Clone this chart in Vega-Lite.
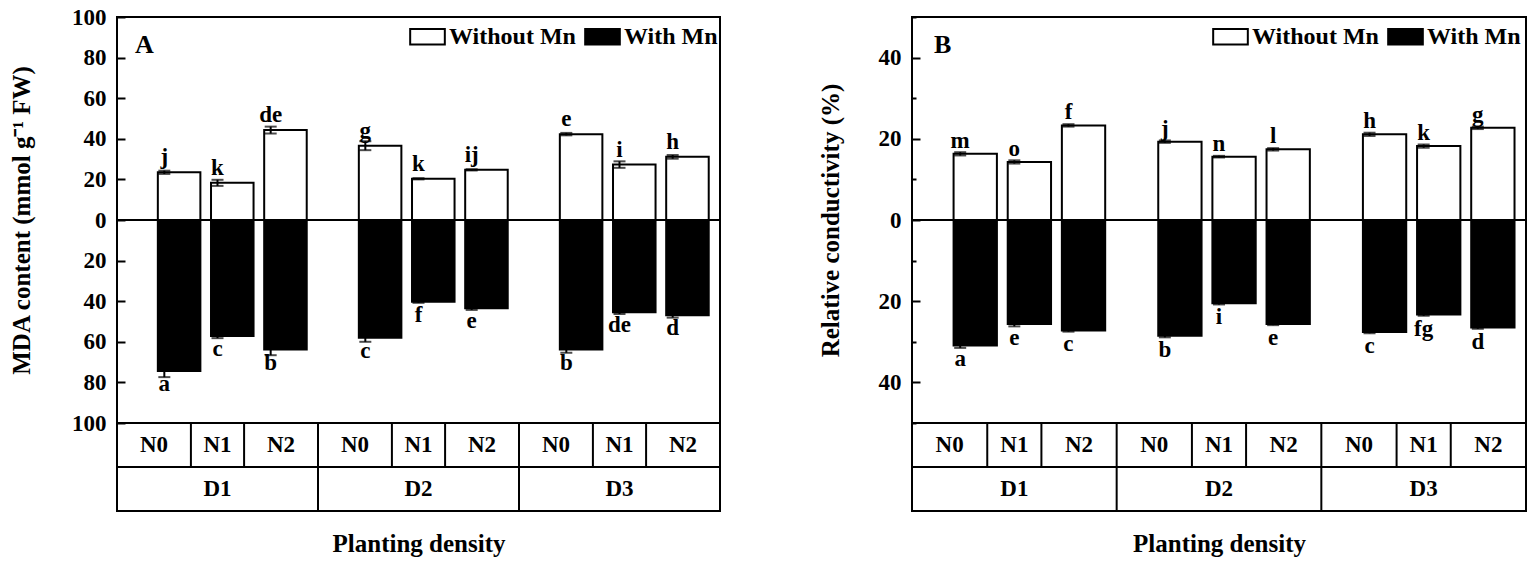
{
  "$schema": "https://vega.github.io/schema/vega-lite/v6.json",
  "autosize": {"type": "pad"},
  "padding": {"left": 8, "top": 5, "right": 4, "bottom": 5},
  "background": "white",
  "config": {
    "font": "Liberation Serif",
    "view": {"stroke": "black", "strokeWidth": 2},
    "axis": {
      "labelFont": "Liberation Serif", "labelFontWeight": "bold", "labelFontSize": 23, "labelColor": "black",
      "titleFont": "Liberation Serif", "titleFontWeight": "bold", "titleFontSize": 25, "titleColor": "black",
      "tickColor": "black", "tickWidth": 2, "domain": false, "grid": false
    },
    "legend": {
      "orient": "none", "direction": "horizontal", "padding": 0,
      "symbolType": "M-1,-0.45H1V0.45H-1Z", "symbolSize": 1200,
      "symbolStrokeColor": "black", "symbolStrokeWidth": 2,
      "labelFont": "Liberation Serif", "labelFontSize": 24, "labelFontWeight": "bold", "labelColor": "black",
      "labelOffset": 3, "columnPadding": 5, "labelLimit": 400
    },
    "text": {"font": "Liberation Serif", "fontWeight": "bold", "fontSize": 23, "color": "black"},
    "rule": {"color": "black", "strokeWidth": 2}
  },
  "datasets": {
    "A": [
      {"D": "D1", "N": "N0", "Mn": "Without Mn", "value": 23.5, "err": 0.8, "letter": "j"},
      {"D": "D1", "N": "N1", "Mn": "Without Mn", "value": 18.3, "err": 1.5, "letter": "k"},
      {"D": "D1", "N": "N2", "Mn": "Without Mn", "value": 44.3, "err": 1.7, "letter": "de"},
      {"D": "D2", "N": "N0", "Mn": "Without Mn", "value": 36.6, "err": 2.2, "letter": "g"},
      {"D": "D2", "N": "N1", "Mn": "Without Mn", "value": 20.3, "err": 0.3, "letter": "k"},
      {"D": "D2", "N": "N2", "Mn": "Without Mn", "value": 24.7, "err": 0.3, "letter": "ij"},
      {"D": "D3", "N": "N0", "Mn": "Without Mn", "value": 42.3, "err": 0.6, "letter": "e"},
      {"D": "D3", "N": "N1", "Mn": "Without Mn", "value": 27.3, "err": 1.6, "letter": "i"},
      {"D": "D3", "N": "N2", "Mn": "Without Mn", "value": 31.1, "err": 0.9, "letter": "h"},
      {"D": "D1", "N": "N0", "Mn": "With Mn", "value": -74.4, "err": 3.0, "letter": "a"},
      {"D": "D1", "N": "N1", "Mn": "With Mn", "value": -57.2, "err": 1.0, "letter": "c"},
      {"D": "D1", "N": "N2", "Mn": "With Mn", "value": -63.8, "err": 2.8, "letter": "b"},
      {"D": "D2", "N": "N0", "Mn": "With Mn", "value": -58.0, "err": 2.0, "letter": "c"},
      {"D": "D2", "N": "N1", "Mn": "With Mn", "value": -40.3, "err": 0.5, "letter": "f"},
      {"D": "D2", "N": "N2", "Mn": "With Mn", "value": -43.5, "err": 0.8, "letter": "e"},
      {"D": "D3", "N": "N0", "Mn": "With Mn", "value": -63.8, "err": 1.6, "letter": "b"},
      {"D": "D3", "N": "N1", "Mn": "With Mn", "value": -45.5, "err": 0.8, "letter": "de"},
      {"D": "D3", "N": "N2", "Mn": "With Mn", "value": -46.9, "err": 1.2, "letter": "d"}
    ],
    "B": [
      {"D": "D1", "N": "N0", "Mn": "Without Mn", "value": 16.3, "err": 0.4, "letter": "m"},
      {"D": "D1", "N": "N1", "Mn": "Without Mn", "value": 14.3, "err": 0.4, "letter": "o"},
      {"D": "D1", "N": "N2", "Mn": "Without Mn", "value": 23.3, "err": 0.3, "letter": "f"},
      {"D": "D2", "N": "N0", "Mn": "Without Mn", "value": 19.3, "err": 0.3, "letter": "j"},
      {"D": "D2", "N": "N1", "Mn": "Without Mn", "value": 15.6, "err": 0.2, "letter": "n"},
      {"D": "D2", "N": "N2", "Mn": "Without Mn", "value": 17.4, "err": 0.3, "letter": "l"},
      {"D": "D3", "N": "N0", "Mn": "Without Mn", "value": 21.1, "err": 0.4, "letter": "h"},
      {"D": "D3", "N": "N1", "Mn": "Without Mn", "value": 18.2, "err": 0.4, "letter": "k"},
      {"D": "D3", "N": "N2", "Mn": "Without Mn", "value": 22.7, "err": 0.3, "letter": "g"},
      {"D": "D1", "N": "N0", "Mn": "With Mn", "value": -30.9, "err": 0.6, "letter": "a"},
      {"D": "D1", "N": "N1", "Mn": "With Mn", "value": -25.6, "err": 0.6, "letter": "e"},
      {"D": "D1", "N": "N2", "Mn": "With Mn", "value": -27.2, "err": 0.3, "letter": "c"},
      {"D": "D2", "N": "N0", "Mn": "With Mn", "value": -28.5, "err": 0.4, "letter": "b"},
      {"D": "D2", "N": "N1", "Mn": "With Mn", "value": -20.5, "err": 0.3, "letter": "i"},
      {"D": "D2", "N": "N2", "Mn": "With Mn", "value": -25.6, "err": 0.3, "letter": "e"},
      {"D": "D3", "N": "N0", "Mn": "With Mn", "value": -27.6, "err": 0.3, "letter": "c"},
      {"D": "D3", "N": "N1", "Mn": "With Mn", "value": -23.3, "err": 0.3, "letter": "fg"},
      {"D": "D3", "N": "N2", "Mn": "With Mn", "value": -26.5, "err": 0.3, "letter": "d"}
    ]
  },
  "hconcat": [
    {
      "data": {"name": "A"},
      "spacing": 0,
      "bounds": "flush",
      "resolve": {"scale": {"x": "independent", "xOffset": "independent", "fill": "independent"}, "legend": {"fill": "independent"}},
      "vconcat": [
        {
          "width": 603,
          "height": 406,
          "layer": [
            {
              "mark": {"type": "bar", "width": {"band": 0.8}, "stroke": "black", "strokeWidth": 2},
              "encoding": {
                "x": {"field": "D", "type": "nominal", "axis": null, "scale": {"paddingInner": 0, "paddingOuter": 0}},
                "xOffset": {"field": "N", "type": "nominal", "scale": {"paddingInner": 0, "paddingOuter": 0.39}},
                "y": {
                  "field": "value", "type": "quantitative", "title": "MDA content (mmol g⁻¹ FW)",
                  "scale": {"domain": [-100, 100], "nice": false, "zero": false},
                  "axis": {
                    "values": [-100, -90, -80, -70, -60, -50, -40, -30, -20, -10, 0, 10, 20, 30, 40, 50, 60, 70, 80, 90, 100],
                    "labelExpr": "datum.value % 20 == 0 ? abs(datum.value) : ''",
                    "tickSize": {"condition": {"test": "datum.value % 20 == 0", "value": -8}, "value": -4},
                    "labelPadding": 19,
                    "titlePadding": 37
                  }
                },
                "fill": {
                  "field": "Mn", "type": "nominal",
                  "scale": {"domain": ["Without Mn", "With Mn"], "range": ["white", "black"]},
                  "legend": {"title": null, "legendX": 292, "legendY": 1}
                }
              }
            },
            {
              "mark": {"type": "errorbar", "ticks": {"size": 12, "color": "black", "strokeWidth": 2}, "color": "black", "thickness": 2},
              "encoding": {
                "x": {"field": "D", "type": "nominal"},
                "xOffset": {"field": "N", "type": "nominal"},
                "y": {"field": "value", "type": "quantitative", "title": "MDA content (mmol g⁻¹ FW)"},
                "yError": {"field": "err"}
              }
            },
            {
              "data": {"values": [{}]},
              "mark": {"type": "rule"},
              "encoding": {"y": {"datum": 0}}
            },
            {
              "transform": [{"filter": "datum.Mn == 'Without Mn'"}],
              "mark": {"type": "text", "baseline": "alphabetic", "dy": -8},
              "encoding": {
                "x": {"field": "D", "type": "nominal"},
                "xOffset": {"field": "N", "type": "nominal"},
                "y": {"field": "value", "type": "quantitative", "title": "MDA content (mmol g⁻¹ FW)"},
                "text": {"field": "letter"}
              }
            },
            {
              "transform": [{"filter": "datum.Mn == 'With Mn'"}],
              "mark": {"type": "text", "baseline": "top", "dy": 2},
              "encoding": {
                "x": {"field": "D", "type": "nominal"},
                "xOffset": {"field": "N", "type": "nominal"},
                "y": {"field": "value", "type": "quantitative", "title": "MDA content (mmol g⁻¹ FW)"},
                "text": {"field": "letter"}
              }
            },
            {
              "data": {"values": [{"t": "A"}]},
              "mark": {"type": "text", "align": "left", "baseline": "middle", "dx": 18, "fontSize": 26},
              "encoding": {
                "x": {"datum": "D1", "bandPosition": 0},
                "y": {"datum": 86},
                "text": {"field": "t"}
              }
            }
          ]
        },
        {
          "width": 603,
          "height": 44,
          "transform": [{"filter": "datum.Mn == 'With Mn'"}],
          "layer": [
            {
              "transform": [{"filter": "datum.N == 'N0'"}],
              "mark": {"type": "text", "baseline": "middle"},
              "encoding": {
                "x": {"field": "D", "type": "nominal", "axis": null, "bandPosition": 0.184, "scale": {"paddingInner": 0, "paddingOuter": 0}},
                "text": {"field": "N"}
              }
            },
            {
              "transform": [{"filter": "datum.N == 'N1'"}],
              "mark": {"type": "text", "baseline": "middle"},
              "encoding": {"x": {"field": "D", "type": "nominal", "bandPosition": 0.5}, "text": {"field": "N"}}
            },
            {
              "transform": [{"filter": "datum.N == 'N2'"}],
              "mark": {"type": "text", "baseline": "middle"},
              "encoding": {"x": {"field": "D", "type": "nominal", "bandPosition": 0.816}, "text": {"field": "N"}}
            },
            {
              "transform": [{"filter": "datum.N == 'N1'"}],
              "mark": {"type": "rule"},
              "encoding": {"x": {"field": "D", "type": "nominal", "bandPosition": 0.3677}}
            },
            {
              "transform": [{"filter": "datum.N == 'N2'"}],
              "mark": {"type": "rule"},
              "encoding": {"x": {"field": "D", "type": "nominal", "bandPosition": 0.6323}}
            },
            {
              "transform": [{"filter": "datum.N == 'N0' && datum.D != 'D1'"}],
              "mark": {"type": "rule"},
              "encoding": {"x": {"field": "D", "type": "nominal", "bandPosition": 0}}
            }
          ]
        },
        {
          "width": 603,
          "height": 44,
          "transform": [{"filter": "datum.Mn == 'With Mn' && datum.N == 'N0'"}],
          "layer": [
            {
              "mark": {"type": "text", "baseline": "middle"},
              "encoding": {
                "x": {
                  "field": "D", "type": "nominal", "scale": {"paddingInner": 0, "paddingOuter": 0},
                  "axis": {"title": "Planting density", "labels": false, "ticks": false, "titlePadding": 20}
                },
                "text": {"field": "D"}
              }
            },
            {
              "transform": [{"filter": "datum.D != 'D1'"}],
              "mark": {"type": "rule"},
              "encoding": {"x": {"field": "D", "type": "nominal", "bandPosition": 0}}
            }
          ]
        }
      ]
    },
    {
      "data": {"name": "B"},
      "spacing": 0,
      "bounds": "flush",
      "resolve": {"scale": {"x": "independent", "xOffset": "independent", "fill": "independent"}, "legend": {"fill": "independent"}},
      "vconcat": [
        {
          "width": 614,
          "height": 406,
          "layer": [
            {
              "mark": {"type": "bar", "width": {"band": 0.8}, "stroke": "black", "strokeWidth": 2},
              "encoding": {
                "x": {"field": "D", "type": "nominal", "axis": null, "scale": {"paddingInner": 0, "paddingOuter": 0}},
                "xOffset": {"field": "N", "type": "nominal", "scale": {"paddingInner": 0, "paddingOuter": 0.39}},
                "y": {
                  "field": "value", "type": "quantitative", "title": "Relative conductivity (%)",
                  "scale": {"domain": [-50, 50], "nice": false, "zero": false},
                  "axis": {
                    "values": [-50, -40, -30, -20, -10, 0, 10, 20, 30, 40, 50],
                    "labelExpr": "datum.value % 20 == 0 ? abs(datum.value) : ''",
                    "tickSize": {"condition": {"test": "datum.value % 20 == 0", "value": -8}, "value": -4},
                    "labelPadding": 19,
                    "titlePadding": 35
                  }
                },
                "fill": {
                  "field": "Mn", "type": "nominal",
                  "scale": {"domain": ["Without Mn", "With Mn"], "range": ["white", "black"]},
                  "legend": {"title": null, "legendX": 300, "legendY": 1}
                }
              }
            },
            {
              "mark": {"type": "errorbar", "ticks": {"size": 12, "color": "black", "strokeWidth": 2}, "color": "black", "thickness": 2},
              "encoding": {
                "x": {"field": "D", "type": "nominal"},
                "xOffset": {"field": "N", "type": "nominal"},
                "y": {"field": "value", "type": "quantitative", "title": "Relative conductivity (%)"},
                "yError": {"field": "err"}
              }
            },
            {
              "data": {"values": [{}]},
              "mark": {"type": "rule"},
              "encoding": {"y": {"datum": 0}}
            },
            {
              "transform": [{"filter": "datum.Mn == 'Without Mn'"}],
              "mark": {"type": "text", "baseline": "alphabetic", "dy": -6},
              "encoding": {
                "x": {"field": "D", "type": "nominal"},
                "xOffset": {"field": "N", "type": "nominal"},
                "y": {"field": "value", "type": "quantitative", "title": "Relative conductivity (%)"},
                "text": {"field": "letter"}
              }
            },
            {
              "transform": [{"filter": "datum.Mn == 'With Mn'"}],
              "mark": {"type": "text", "baseline": "top", "dy": 3},
              "encoding": {
                "x": {"field": "D", "type": "nominal"},
                "xOffset": {"field": "N", "type": "nominal"},
                "y": {"field": "value", "type": "quantitative", "title": "Relative conductivity (%)"},
                "text": {"field": "letter"}
              }
            },
            {
              "data": {"values": [{"t": "B"}]},
              "mark": {"type": "text", "align": "left", "baseline": "middle", "dx": 22, "fontSize": 26},
              "encoding": {
                "x": {"datum": "D1", "bandPosition": 0},
                "y": {"datum": 43},
                "text": {"field": "t"}
              }
            }
          ]
        },
        {
          "width": 614,
          "height": 44,
          "transform": [{"filter": "datum.Mn == 'With Mn'"}],
          "layer": [
            {
              "transform": [{"filter": "datum.N == 'N0'"}],
              "mark": {"type": "text", "baseline": "middle"},
              "encoding": {
                "x": {"field": "D", "type": "nominal", "axis": null, "bandPosition": 0.184, "scale": {"paddingInner": 0, "paddingOuter": 0}},
                "text": {"field": "N"}
              }
            },
            {
              "transform": [{"filter": "datum.N == 'N1'"}],
              "mark": {"type": "text", "baseline": "middle"},
              "encoding": {"x": {"field": "D", "type": "nominal", "bandPosition": 0.5}, "text": {"field": "N"}}
            },
            {
              "transform": [{"filter": "datum.N == 'N2'"}],
              "mark": {"type": "text", "baseline": "middle"},
              "encoding": {"x": {"field": "D", "type": "nominal", "bandPosition": 0.816}, "text": {"field": "N"}}
            },
            {
              "transform": [{"filter": "datum.N == 'N1'"}],
              "mark": {"type": "rule"},
              "encoding": {"x": {"field": "D", "type": "nominal", "bandPosition": 0.3677}}
            },
            {
              "transform": [{"filter": "datum.N == 'N2'"}],
              "mark": {"type": "rule"},
              "encoding": {"x": {"field": "D", "type": "nominal", "bandPosition": 0.6323}}
            },
            {
              "transform": [{"filter": "datum.N == 'N0' && datum.D != 'D1'"}],
              "mark": {"type": "rule"},
              "encoding": {"x": {"field": "D", "type": "nominal", "bandPosition": 0}}
            }
          ]
        },
        {
          "width": 614,
          "height": 44,
          "transform": [{"filter": "datum.Mn == 'With Mn' && datum.N == 'N0'"}],
          "layer": [
            {
              "mark": {"type": "text", "baseline": "middle"},
              "encoding": {
                "x": {
                  "field": "D", "type": "nominal", "scale": {"paddingInner": 0, "paddingOuter": 0},
                  "axis": {"title": "Planting density", "labels": false, "ticks": false, "titlePadding": 20}
                },
                "text": {"field": "D"}
              }
            },
            {
              "transform": [{"filter": "datum.D != 'D1'"}],
              "mark": {"type": "rule"},
              "encoding": {"x": {"field": "D", "type": "nominal", "bandPosition": 0}}
            }
          ]
        }
      ]
    }
  ],
  "spacing": 95,
  "resolve": {"scale": {"fill": "independent", "x": "independent", "y": "independent", "xOffset": "independent"}, "legend": {"fill": "independent"}}
}
